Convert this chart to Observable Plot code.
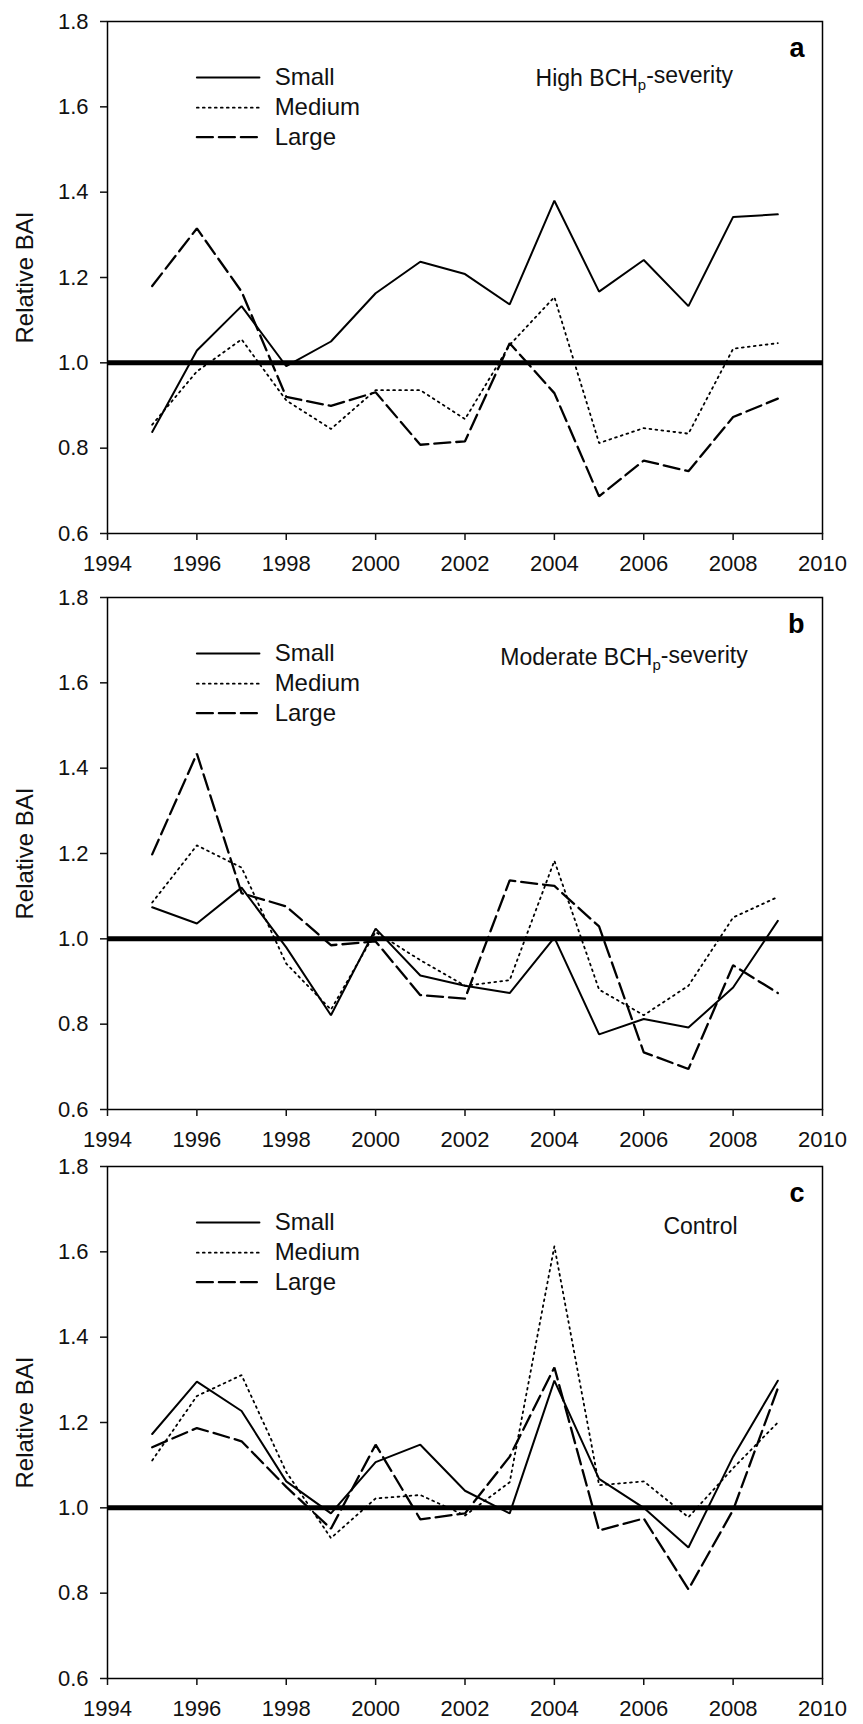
<!DOCTYPE html>
<html>
<head>
<meta charset="utf-8">
<script src="https://cdn.jsdelivr.net/npm/d3@7"></script>
<script src="https://cdn.jsdelivr.net/npm/@observablehq/plot@0.6"></script>
<style>
  body { margin: 0; background: #fff; }
  #chart svg { display: block; overflow: visible; }
</style>
</head>
<body>
<div id="chart"></div>
<script>
// ---------- data ----------
const years = [1995, 1996, 1997, 1998, 1999, 2000, 2001, 2002, 2003, 2004, 2005, 2006, 2007, 2008, 2009];
const xTicks = [1994, 1996, 1998, 2000, 2002, 2004, 2006, 2008, 2010];
const yTicks = [0.6, 0.8, 1.0, 1.2, 1.4, 1.6, 1.8];
const seriesNames = ["Small", "Medium", "Large"];
const panelLetters = ["a", "b", "c"];
const panelTitles = ["High BCHp-severity", "Moderate BCHp-severity", "Control"];
const yAxisLabel = "Relative BAI";

// Panel a: High BCHp-severity
const highSmall  = [0.838, 1.029, 1.133, 0.992, 1.050, 1.163, 1.237, 1.208, 1.137, 1.380, 1.167, 1.241, 1.133, 1.342, 1.348];
const highMedium = [0.855, 0.980, 1.055, 0.912, 0.845, 0.936, 0.936, 0.868, 1.042, 1.154, 0.812, 0.847, 0.834, 1.033, 1.046];
const highLarge  = [1.180, 1.315, 1.167, 0.920, 0.899, 0.931, 0.808, 0.816, 1.046, 0.929, 0.687, 0.771, 0.746, 0.873, 0.916];

// Panel b: Moderate BCHp-severity
const modSmall  = [1.074, 1.036, 1.120, 0.980, 0.821, 1.024, 0.914, 0.890, 0.873, 1.003, 0.776, 0.812, 0.792, 0.886, 1.042];
const modMedium = [1.085, 1.219, 1.167, 0.942, 0.834, 1.016, 0.950, 0.890, 0.903, 1.183, 0.881, 0.821, 0.890, 1.050, 1.098];
const modLarge  = [1.198, 1.434, 1.107, 1.076, 0.985, 0.994, 0.868, 0.860, 1.137, 1.124, 1.029, 0.734, 0.695, 0.938, 0.873];

// Panel c: Control
const ctrlSmall  = [1.173, 1.296, 1.227, 1.062, 0.987, 1.107, 1.148, 1.040, 0.987, 1.298, 1.068, 1.000, 0.907, 1.120, 1.298];
const ctrlMedium = [1.111, 1.262, 1.311, 1.084, 0.929, 1.022, 1.030, 0.982, 1.060, 1.613, 1.053, 1.062, 0.978, 1.093, 1.200];
const ctrlLarge  = [1.142, 1.187, 1.156, 1.049, 0.951, 1.148, 0.973, 0.987, 1.120, 1.329, 0.947, 0.975, 0.809, 0.995, 1.280];

const panelSeries = [
  [highSmall, highMedium, highLarge],
  [modSmall, modMedium, modLarge],
  [ctrlSmall, ctrlMedium, ctrlLarge]
];

// ---------- layout / style ----------
const FONT = "'Liberation Sans', Arial, Helvetica, sans-serif";
const lineStyle = {
  Small:  {strokeWidth: 2,   strokeDasharray: null},
  Medium: {strokeWidth: 1.8, strokeDasharray: "1.8,4.2"},
  Large:  {strokeWidth: 2.3, strokeDasharray: "16,6"}
};
const panelLayout = [
  {height: 576, marginBottom: 43, title: {x: 2003.58, y: 1.650}},
  {height: 569, marginBottom: 36, title: {x: 2002.79, y: 1.641}},
  {height: 579, marginBottom: 46, title: {x: 2006.44, y: 1.641}}
];
const legendX = [1996.0, 1997.4];
const legendTextX = 1997.74;
const legendY = [1.669, 1.598, 1.529];

const container = document.getElementById("chart");

panelSeries.forEach((series, p) => {
  const rows = [];
  seriesNames.forEach((name, s) => {
    years.forEach((yr, i) => rows.push({series: name, year: yr, value: series[s][i]}));
  });

  const marks = [
    Plot.ruleY([1], {stroke: "#000", strokeWidth: 5})
  ];
  seriesNames.forEach((name, s) => {
    marks.push(Plot.line(rows.filter(d => d.series === name), {
      x: "year", y: "value", stroke: "#000",
      strokeWidth: lineStyle[name].strokeWidth,
      strokeDasharray: lineStyle[name].strokeDasharray,
      strokeLinejoin: "miter"
    }));
    // legend swatch
    marks.push(Plot.line(legendX.map(x => ({x, y: legendY[s]})), {
      x: "x", y: "y", stroke: "#000",
      strokeWidth: lineStyle[name].strokeWidth,
      strokeDasharray: lineStyle[name].strokeDasharray
    }));
    marks.push(Plot.text([name], {
      x: legendTextX, y: legendY[s], text: d => d,
      textAnchor: "start", lineAnchor: "middle", fontSize: 24, fill: "#111"
    }));
  });

  const lay = panelLayout[p];
  marks.push(
    Plot.text([panelTitles[p]], {
      x: lay.title.x, y: lay.title.y, text: d => d,
      textAnchor: "start", lineAnchor: "bottom", fontSize: 23, fill: "#111"
    }),
    Plot.text([panelLetters[p]], {
      frameAnchor: "top-right", text: d => d, dx: -18, dy: 35,
      textAnchor: "end", lineAnchor: "bottom", fontSize: 27, fontWeight: "bold", fill: "#000"
    }),
    Plot.text([yAxisLabel], {
      frameAnchor: "left", text: d => d, rotate: -90, dx: -82,
      textAnchor: "middle", lineAnchor: "middle", fontSize: 24, fill: "#111"
    }),
    Plot.frame({stroke: "#000", strokeWidth: 1.5}),
    Plot.axisX({ticks: xTicks, tickFormat: d => String(d), tickSize: 7, tickPadding: 15,
                fontSize: 22, label: null, strokeWidth: 1.5}),
    Plot.axisY({ticks: yTicks, tickFormat: d3.format(".1f"), tickSize: 7, tickPadding: 12,
                fontSize: 22, label: null, strokeWidth: 1.5})
  );

  const chart = Plot.plot({
    width: 863,
    height: lay.height,
    marginTop: 21,
    marginBottom: lay.marginBottom,
    marginLeft: 107,
    marginRight: 41,
    style: {fontFamily: FONT, color: "#111", background: "transparent", overflow: "visible"},
    x: {domain: [1994, 2010]},
    y: {domain: [0.6, 1.8]},
    marks
  });

  // render the "p" of BCHp as a subscript
  chart.querySelectorAll("text").forEach(t => {
    const s = t.textContent;
    const k = s.indexOf("BCHp");
    if (k >= 0 && t.children.length === 0) {
      const before = s.slice(0, k + 3);
      const after = s.slice(k + 4);
      const ns = "http://www.w3.org/2000/svg";
      t.textContent = "";
      t.appendChild(document.createTextNode(before));
      const sub = document.createElementNS(ns, "tspan");
      sub.setAttribute("font-size", "0.65em");
      sub.setAttribute("dy", "0.3em");
      sub.textContent = "p";
      t.appendChild(sub);
      const rest = document.createElementNS(ns, "tspan");
      rest.setAttribute("dy", "-0.3em");
      rest.textContent = after;
      t.appendChild(rest);
    }
  });

  container.appendChild(chart);
});
</script>
</body>
</html>
